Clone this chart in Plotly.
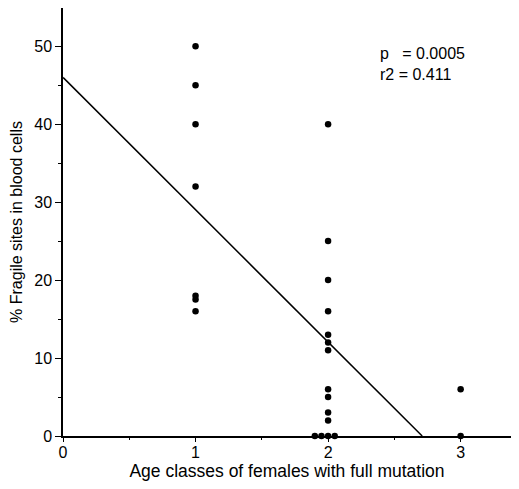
import plotly.graph_objects as go

# data
age_class = [1, 1, 1, 1, 1, 1, 1,
             2, 2, 2, 2, 2, 2, 2, 2, 2, 2, 2, 1.9, 1.95, 2.0, 2.05,
             3, 3]
fragile_pct = [50, 45, 40, 32, 18, 17.5, 16,
               40, 25, 20, 16, 13, 12, 11, 6, 5, 3, 2, 0, 0, 0, 0,
               6, 0]

# regression fit: intercept and end of line at y = 0
fit_x = [0, 2.71]
fit_y = [46, 0]

stats_text = "p   = 0.0005<br>r2 = 0.411"

font = "Liberation Sans, Arial, Helvetica, sans-serif"

fig = go.Figure()

fig.add_trace(go.Scatter(
    x=fit_x, y=fit_y, mode="lines",
    line=dict(color="black", width=1.5),
    showlegend=False, cliponaxis=False,
))

fig.add_trace(go.Scatter(
    x=age_class, y=fragile_pct, mode="markers",
    marker=dict(color="black", size=6.5),
    showlegend=False, cliponaxis=False,
))

fig.add_annotation(
    x=2.38, y=50.4, xref="x", yref="y",
    text=stats_text, showarrow=False,
    xanchor="left", yanchor="top", align="left",
    font=dict(family=font, size=16, color="black"),
)

fig.update_xaxes(
    range=[0, 3.38], tickvals=[0, 1, 2, 3],
    ticks="outside", ticklen=4, tickwidth=1, tickcolor="black",
    minor=dict(tickvals=[0.5, 1.5, 2.5], ticks="outside", ticklen=2, tickcolor="black"),
    showline=True, linecolor="black", linewidth=1.5,
    showgrid=False, zeroline=False, automargin=False,
    ticklabelstandoff=-3,
    title=dict(text="Age classes of females with full mutation",
               font=dict(family=font, size=17.5, color="black"), standoff=0),
    tickfont=dict(family=font, size=16, color="black"),
)

fig.update_yaxes(
    range=[0, 54.9], tickvals=[0, 10, 20, 30, 40, 50],
    ticks="outside", ticklen=6, tickwidth=1, tickcolor="black",
    minor=dict(tickvals=[5, 15, 25, 35, 45], ticks="outside", ticklen=3, tickcolor="black"),
    showline=True, linecolor="black", linewidth=1.5,
    showgrid=False, zeroline=False, automargin=False,
    title=dict(text="% Fragile sites in blood cells",
               font=dict(family=font, size=16, color="black"), standoff=8),
    tickfont=dict(family=font, size=16, color="black"),
)

# page body adds an 8px margin, so the figure is sized to fit inside it
fig.update_layout(
    width=503, height=473,
    margin=dict(l=55, r=0, t=0, b=45),
    plot_bgcolor="white", paper_bgcolor="white",
)

fig.write_html("out.html")
